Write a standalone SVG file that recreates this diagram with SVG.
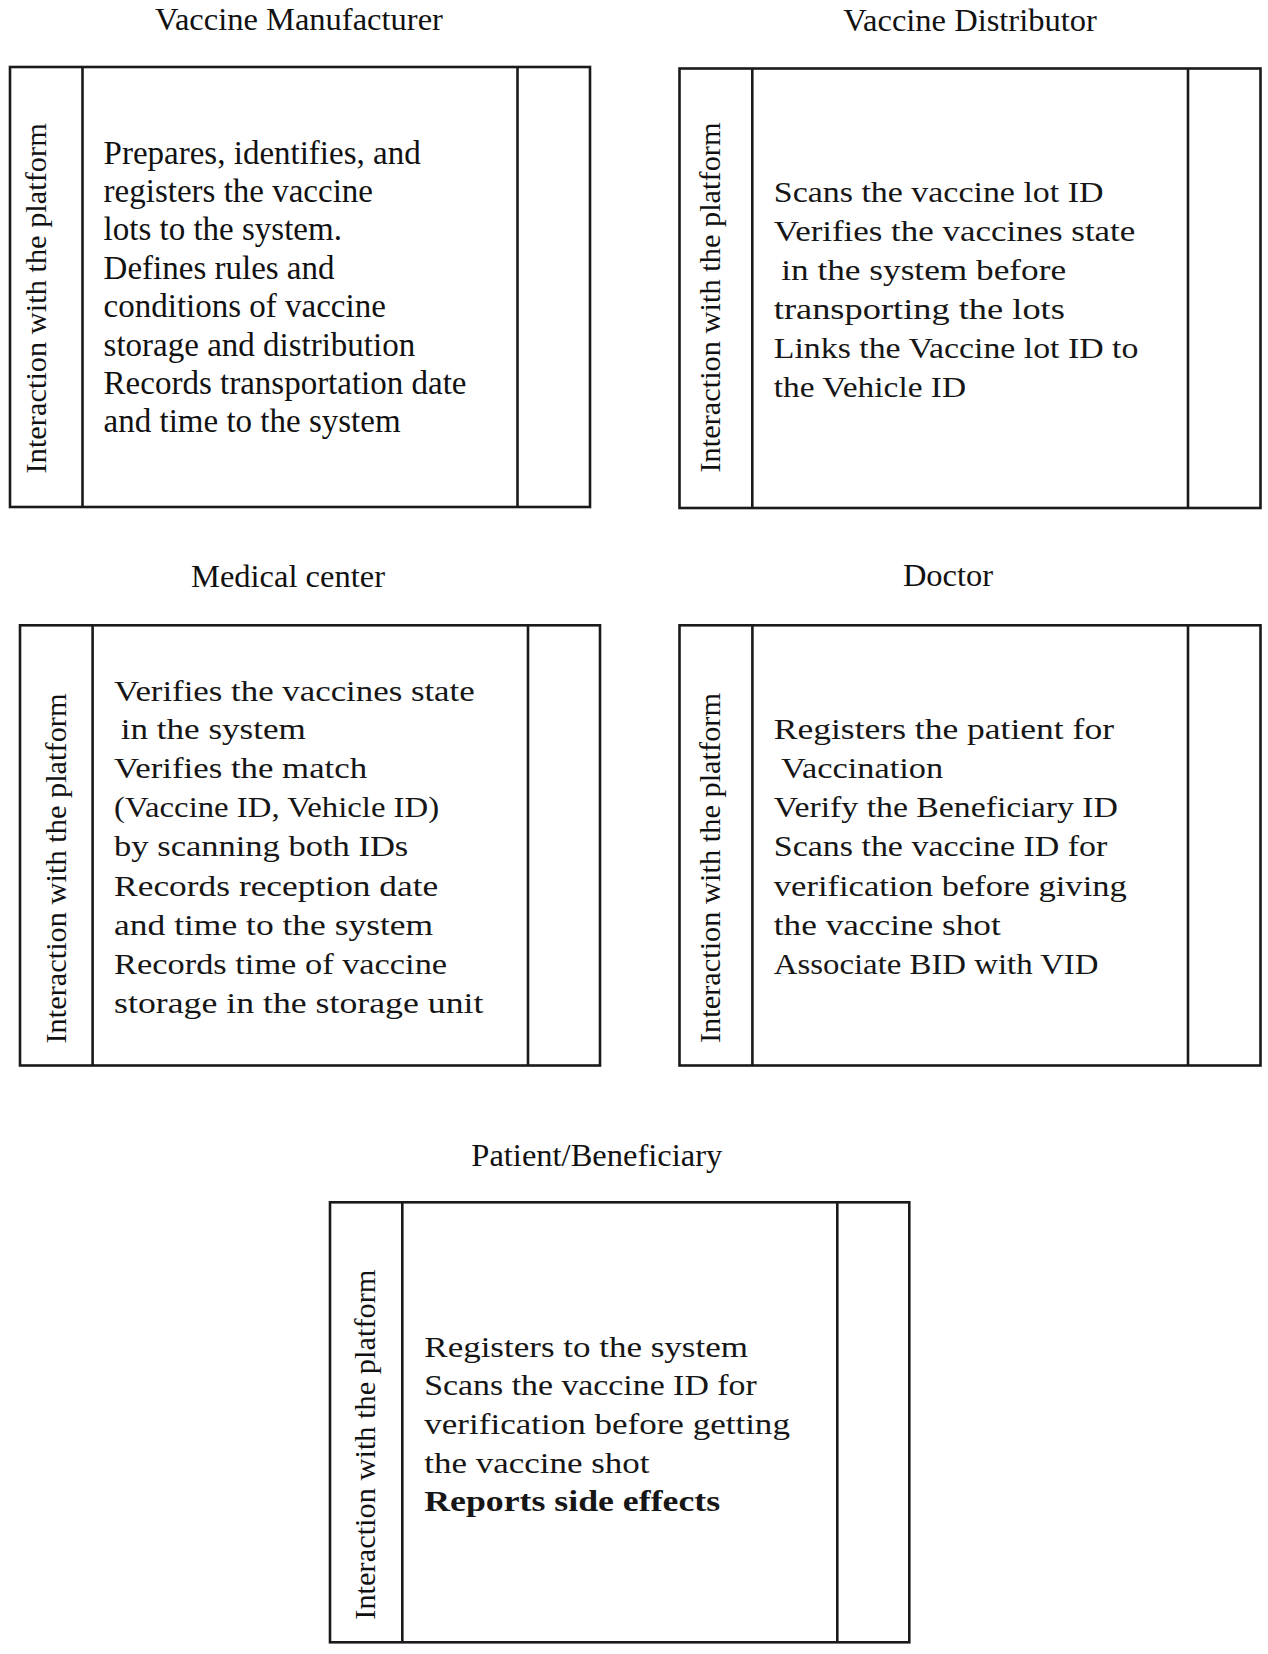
<svg xmlns="http://www.w3.org/2000/svg" width="1268" height="1654" viewBox="0 0 1268 1654">
<style>
  .frame { fill: #ffffff; stroke: #1a1a1a; stroke-width: 2.6; }
  .div { stroke: #1a1a1a; stroke-width: 2.6; }
  .title { font-family: "Liberation Serif", "Times New Roman", serif; font-size: 32.5px; fill: #111; text-anchor: middle; }
  .side { font-family: "Liberation Serif", "Times New Roman", serif; font-size: 30.4px; fill: #111; text-anchor: middle; }
  .tm { font-family: "Liberation Serif", "Times New Roman", serif; font-size: 33px; fill: #111; }
  .cb { font-family: "Liberation Serif", "Times New Roman", serif; font-size: 29.5px; fill: #161616; }
  .bold { font-weight: bold; }
</style>
<rect x="0" y="0" width="1268" height="1654" fill="#ffffff"/>

<g id="vaccine-manufacturer">
  <text class="title" x="299" y="30">Vaccine Manufacturer</text>
  <rect class="frame" x="10" y="67" width="580" height="440"/>
  <line class="div" x1="82.5" y1="67" x2="82.5" y2="507"/>
  <line class="div" x1="517.5" y1="67" x2="517.5" y2="507"/>
  <text class="side" transform="translate(45.5,298.3) rotate(-90)">Interaction with the platform</text>
  <text class="tm" x="103.6" y="163.5">Prepares, identifies, and</text>
  <text class="tm" x="103.6" y="201.9">registers the vaccine</text>
  <text class="tm" x="103.6" y="240.3">lots to the system.</text>
  <text class="tm" x="103.6" y="278.7">Defines rules and</text>
  <text class="tm" x="103.6" y="317.1">conditions of vaccine</text>
  <text class="tm" x="103.6" y="355.5">storage and distribution</text>
  <text class="tm" x="103.6" y="393.9">Records transportation date</text>
  <text class="tm" x="103.6" y="432.3">and time to the system</text>
</g>

<g id="vaccine-distributor">
  <text class="title" x="970" y="31">Vaccine Distributor</text>
  <rect class="frame" x="679.5" y="68.5" width="581" height="439.5"/>
  <line class="div" x1="752.3" y1="68.5" x2="752.3" y2="508"/>
  <line class="div" x1="1188" y1="68.5" x2="1188" y2="508"/>
  <text class="side" transform="translate(720,297.5) rotate(-90)">Interaction with the platform</text>
  <text class="cb" x="773.8" y="202.3" textLength="329.7" lengthAdjust="spacingAndGlyphs">Scans the vaccine lot ID</text>
  <text class="cb" x="773.8" y="241.2" textLength="361.5" lengthAdjust="spacingAndGlyphs">Verifies the vaccines state</text>
  <text class="cb" x="781.2" y="280.1" textLength="284.9" lengthAdjust="spacingAndGlyphs">in the system before</text>
  <text class="cb" x="773.8" y="319" textLength="291.1" lengthAdjust="spacingAndGlyphs">transporting the lots</text>
  <text class="cb" x="773.8" y="357.9" textLength="364.6" lengthAdjust="spacingAndGlyphs">Links the Vaccine lot ID to</text>
  <text class="cb" x="773.8" y="396.8" textLength="192.3" lengthAdjust="spacingAndGlyphs">the Vehicle ID</text>
</g>

<g id="medical-center">
  <text class="title" x="288" y="586.7">Medical center</text>
  <rect class="frame" x="20" y="625.3" width="580" height="440.2"/>
  <line class="div" x1="92.6" y1="625.3" x2="92.6" y2="1065.5"/>
  <line class="div" x1="528" y1="625.3" x2="528" y2="1065.5"/>
  <text class="side" transform="translate(65.5,868.5) rotate(-90)">Interaction with the platform</text>
  <text class="cb" x="114.1" y="700.5" textLength="360.6" lengthAdjust="spacingAndGlyphs">Verifies the vaccines state</text>
  <text class="cb" x="120.8" y="739.4" textLength="185" lengthAdjust="spacingAndGlyphs">in the system</text>
  <text class="cb" x="114.1" y="778.4" textLength="253" lengthAdjust="spacingAndGlyphs">Verifies the match</text>
  <text class="cb" x="114.1" y="817.3" textLength="325" lengthAdjust="spacingAndGlyphs">(Vaccine ID, Vehicle ID)</text>
  <text class="cb" x="114.1" y="856.2" textLength="294.2" lengthAdjust="spacingAndGlyphs">by scanning both IDs</text>
  <text class="cb" x="114.1" y="895.9" textLength="324.2" lengthAdjust="spacingAndGlyphs">Records reception date</text>
  <text class="cb" x="114.1" y="935.2" textLength="319.1" lengthAdjust="spacingAndGlyphs">and time to the system</text>
  <text class="cb" x="114.1" y="974.1" textLength="333" lengthAdjust="spacingAndGlyphs">Records time of vaccine</text>
  <text class="cb" x="114.1" y="1013" textLength="369.3" lengthAdjust="spacingAndGlyphs">storage in the storage unit</text>
</g>

<g id="doctor">
  <text class="title" x="948" y="586.4">Doctor</text>
  <rect class="frame" x="679.5" y="625.3" width="581" height="440.2"/>
  <line class="div" x1="752.4" y1="625.3" x2="752.4" y2="1065.5"/>
  <line class="div" x1="1188" y1="625.3" x2="1188" y2="1065.5"/>
  <text class="side" transform="translate(720,868) rotate(-90)">Interaction with the platform</text>
  <text class="cb" x="773.8" y="739.4" textLength="340.2" lengthAdjust="spacingAndGlyphs">Registers the patient for</text>
  <text class="cb" x="781.1" y="778.4" textLength="162.1" lengthAdjust="spacingAndGlyphs">Vaccination</text>
  <text class="cb" x="773.8" y="817.3" textLength="344.1" lengthAdjust="spacingAndGlyphs">Verify the Beneficiary ID</text>
  <text class="cb" x="773.8" y="856.2" textLength="333.6" lengthAdjust="spacingAndGlyphs">Scans the vaccine ID for</text>
  <text class="cb" x="773.8" y="895.9" textLength="353" lengthAdjust="spacingAndGlyphs">verification before giving</text>
  <text class="cb" x="773.8" y="935.2" textLength="226.9" lengthAdjust="spacingAndGlyphs">the vaccine shot</text>
  <text class="cb" x="773.8" y="974.1" textLength="324.7" lengthAdjust="spacingAndGlyphs">Associate BID with VID</text>
</g>

<g id="patient-beneficiary">
  <text class="title" x="596.8" y="1165.5">Patient/Beneficiary</text>
  <rect class="frame" x="330" y="1202.3" width="579.3" height="440"/>
  <line class="div" x1="402.3" y1="1202.3" x2="402.3" y2="1642.3"/>
  <line class="div" x1="837.3" y1="1202.3" x2="837.3" y2="1642.3"/>
  <text class="side" transform="translate(375,1444.6) rotate(-90)">Interaction with the platform</text>
  <text class="cb" x="424.3" y="1356.7" textLength="323.6" lengthAdjust="spacingAndGlyphs">Registers to the system</text>
  <text class="cb" x="424.3" y="1395.1" textLength="332.4" lengthAdjust="spacingAndGlyphs">Scans the vaccine ID for</text>
  <text class="cb" x="424.3" y="1433.5" textLength="365.6" lengthAdjust="spacingAndGlyphs">verification before getting</text>
  <text class="cb" x="424.3" y="1472.6" textLength="225.2" lengthAdjust="spacingAndGlyphs">the vaccine shot</text>
  <text class="cb bold" x="424.3" y="1511.4" textLength="295.8" lengthAdjust="spacingAndGlyphs">Reports side effects</text>
</g>

<g id="connectors"></g>
</svg>
